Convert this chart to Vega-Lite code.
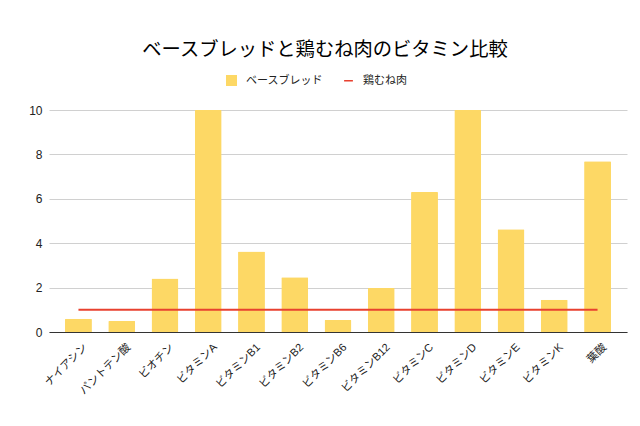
{
  "$schema": "https://vega.github.io/schema/vega-lite/v6.json",
  "width": 578,
  "height": 222,
  "autosize": {"type": "none"},
  "padding": {"left": 49, "top": 110, "right": 13, "bottom": 94},
  "background": "white",
  "title": {
    "text": "ベースブレッドと鶏むね肉のビタミン比較",
    "anchor": "middle",
    "fontSize": 19.3,
    "fontWeight": "normal",
    "font": "Liberation Sans, Noto Sans CJK JP",
    "color": "#000000",
    "offset": 15,
    "dx": -13
  },
  "config": {
    "view": {"stroke": null},
    "font": "Liberation Sans, Noto Sans CJK JP",
    "axis": {"labelFont": "Liberation Sans, Noto Sans CJK JP", "labelColor": "#222222", "titleFont": "Liberation Sans"}
  },
  "data": {
    "values": [
      {"name": "ナイアシン", "bread": 0.6, "chicken": 1},
      {"name": "パントテン酸", "bread": 0.5, "chicken": 1},
      {"name": "ビオチン", "bread": 2.41, "chicken": 1},
      {"name": "ビタミンA", "bread": 10, "chicken": 1},
      {"name": "ビタミンB1", "bread": 3.63, "chicken": 1},
      {"name": "ビタミンB2", "bread": 2.47, "chicken": 1},
      {"name": "ビタミンB6", "bread": 0.54, "chicken": 1},
      {"name": "ビタミンB12", "bread": 1.98, "chicken": 1},
      {"name": "ビタミンC", "bread": 6.31, "chicken": 1},
      {"name": "ビタミンD", "bread": 10, "chicken": 1},
      {"name": "ビタミンE", "bread": 4.63, "chicken": 1},
      {"name": "ビタミンK", "bread": 1.45, "chicken": 1},
      {"name": "葉酸", "bread": 7.69, "chicken": 1}
    ]
  },
  "encoding": {
    "x": {
      "field": "name",
      "type": "nominal",
      "sort": null,
      "scale": {"paddingInner": 0.378, "paddingOuter": 0.37},
      "axis": {
        "title": null,
        "labelAngle": -45,
        "labelAlign": "right",
        "labelBaseline": "top",
        "labelFontSize": 11,
        "labelPadding": 9,
        "labelOffset": 3,
        "ticks": false,
        "domainColor": "#333333",
        "domainWidth": 1,
        "grid": false
      }
    }
  },
  "layer": [
    {
      "mark": {"type": "bar", "cornerRadiusTopLeft": 1, "cornerRadiusTopRight": 1},
      "encoding": {
        "y": {
          "field": "bread",
          "type": "quantitative",
          "scale": {"domain": [0, 10], "nice": false},
          "axis": {
            "title": null,
            "values": [0, 2, 4, 6, 8, 10],
            "domain": false,
            "ticks": false,
            "labelFontSize": 12,
            "labelPadding": 7,
            "gridColor": "#d0d0d0",
            "gridWidth": 1
          }
        },
        "color": {
          "datum": "ベースブレッド",
          "type": "nominal",
          "scale": {"domain": ["ベースブレッド", "鶏むね肉"], "range": ["#fdd865", "#e8412f"]},
          "legend": {
            "title": null,
            "orient": "none",
            "direction": "horizontal",
            "legendX": 177,
            "legendY": -35,
            "labelFontSize": 11,
            "labelColor": "#222222",
            "symbolSize": 121,
            "symbolStrokeWidth": 0,
            "columnPadding": 20,
            "labelOffset": 9,
            "encode": {
              "symbols": {
                "update": {
                  "shape": {"signal": "datum.value === '鶏むね肉' ? 'M-0.8,-0.14H0.8V0.14H-0.8Z' : 'square'"}
                }
              }
            }
          }
        }
      }
    },
    {
      "mark": {"type": "line", "strokeWidth": 2},
      "encoding": {
        "y": {"field": "chicken", "type": "quantitative"},
        "color": {"datum": "鶏むね肉", "type": "nominal"}
      }
    }
  ]
}
